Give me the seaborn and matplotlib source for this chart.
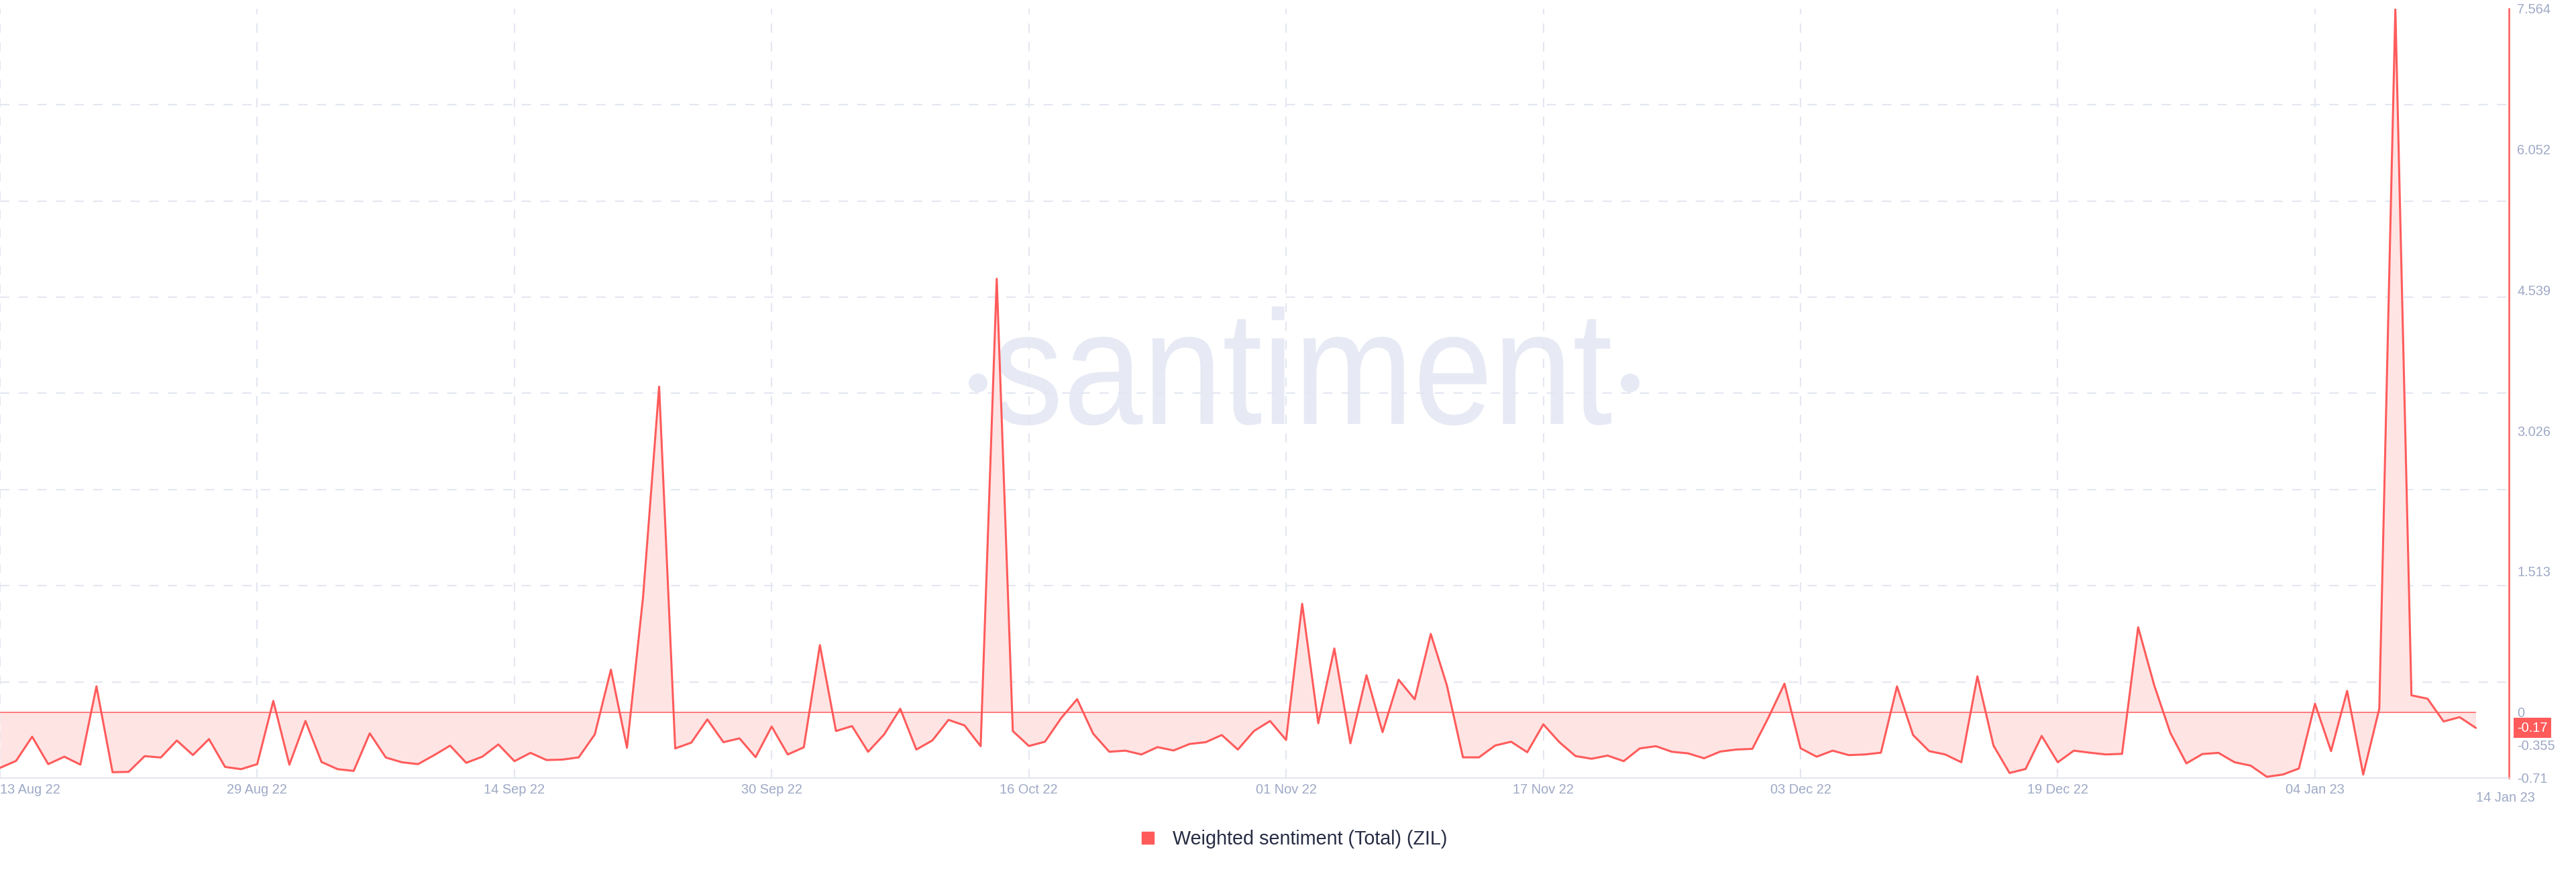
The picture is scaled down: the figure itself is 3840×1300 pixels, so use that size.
import numpy as np
import pandas as pd
import matplotlib
matplotlib.use('Agg')
import matplotlib.pyplot as plt
from matplotlib import font_manager
from matplotlib.font_manager import FontProperties
from matplotlib.lines import Line2D
from matplotlib.patches import PathPatch, Circle
from matplotlib.textpath import TextPath
from matplotlib.transforms import Affine2D, IdentityTransform
import seaborn as sns

# Data (daily weighted sentiment)
start_date = '2022-08-13'
sentiment = [
    -0.60, -0.525, -0.265, -0.56, -0.48, -0.565, 0.277, -0.647, -0.643, -0.474,
    -0.489, -0.306, -0.462, -0.291, -0.59, -0.614, -0.56, 0.12, -0.566, -0.096,
    -0.537, -0.614, -0.633, -0.229, -0.489, -0.54, -0.56, -0.464, -0.361, -0.546,
    -0.48, -0.348, -0.528, -0.439, -0.516, -0.511, -0.487, -0.24, 0.456, -0.384,
    1.236, 3.50, -0.391, -0.329, -0.079, -0.324, -0.283, -0.485, -0.156, -0.456,
    -0.379, 0.72, -0.204, -0.151, -0.427, -0.24, 0.036, -0.403, -0.305, -0.084,
    -0.144, -0.367, 4.66, -0.204, -0.365, -0.319, -0.067, 0.139, -0.233, -0.427,
    -0.415, -0.456, -0.377, -0.413, -0.343, -0.324, -0.247, -0.403, -0.204, -0.096,
    -0.30, 1.164, -0.12, 0.684, -0.336, 0.396, -0.216, 0.348, 0.137, 0.84,
    0.288, -0.487, -0.487, -0.36, -0.319, -0.432, -0.132, -0.324, -0.473, -0.502,
    -0.468, -0.528, -0.391, -0.367, -0.427, -0.444, -0.497, -0.425, -0.403, -0.396,
    -0.06, 0.305, -0.389, -0.48, -0.415, -0.463, -0.456, -0.437, 0.276, -0.247,
    -0.42, -0.456, -0.54, 0.384, -0.36, -0.655, -0.612, -0.257, -0.54, -0.415,
    -0.437, -0.456, -0.449, 0.912, 0.288, -0.223, -0.552, -0.451, -0.439, -0.54,
    -0.576, -0.696, -0.672, -0.607, 0.089, -0.42, 0.228, -0.672, 0.036, 7.564,
    0.18, 0.144, -0.101, -0.055, -0.17,
]
tick_dates = ['2022-08-13', '2022-08-29', '2022-09-14', '2022-09-30', '2022-10-16',
              '2022-11-01', '2022-11-17', '2022-12-03', '2022-12-19', '2023-01-04']
tick_labels = ['13 Aug 22', '29 Aug 22', '14 Sep 22', '30 Sep 22', '16 Oct 22',
               '01 Nov 22', '17 Nov 22', '03 Dec 22', '19 Dec 22', '04 Jan 23']
last_label = '14 Jan 23'
y_ticks = [7.564, 6.052, 4.539, 3.026, 1.513, 0, -0.355, -0.71]
y_tick_labels = ['7.564', '6.052', '4.539', '3.026', '1.513', '0', '-0.355', '-0.71']
series_name = 'Weighted sentiment (Total) (ZIL)'
watermark = 'santiment'

LINE = '#ff5b5b'
FILL = '#ffe4e4'
GRID = '#e4e7f1'
TICK = '#9ea9c6'
TEXT = '#272c44'
WATERMARK = '#e7eaf4'

sns.set_theme(style='white')
available = {f.name for f in font_manager.fontManager.ttflist}
main_font = 'Liberation Sans Narrow' if 'Liberation Sans Narrow' in available else 'Liberation Sans'
plt.rcParams['font.family'] = [main_font, 'DejaVu Sans']
plt.rcParams['lines.scale_dashes'] = False
fp = FontProperties(family=main_font)


def size_for_width(text, width_px):
    # font size (pt) so that the text is width_px wide at 100 dpi
    w = TextPath((0, 0), text, size=100, prop=fp).get_extents().width
    return 100 * width_px / w * 0.72


tick_size = size_for_width('29 Aug 22', 88)
legend_size = size_for_width(series_name, 408)

df = pd.DataFrame({
    'date': pd.date_range(start_date, periods=len(sentiment), freq='D'),
    'value': sentiment,
})

fig = plt.figure(figsize=(38.4, 13), dpi=100)
ax = fig.add_axes([0.0, 0.1077, 0.974, 0.8823])

ax.fill_between(df['date'], df['value'], 0, color=FILL, linewidth=0, zorder=1)
ax.hlines(0, df['date'].iloc[0], df['date'].iloc[-1], color=LINE, linewidth=1.1, zorder=2)
sns.lineplot(data=df, x='date', y='value', ax=ax, color=LINE, linewidth=2.2, zorder=3)

ax.set_xlim(df['date'].iloc[0], df['date'].iloc[0] + pd.Timedelta(days=156.07))
ax.set_ylim(-0.71, 7.564)

# watermark: condensed word + two round dots, placed in pixel coordinates
word = TextPath((0, 0), watermark, size=100, prop=fp)
wb = word.get_extents()
xh = TextPath((0, 0), 'n', size=100, prop=fp).get_extents().height
sx, sy = 918 / wb.width, 130 / xh
ax.add_artist(PathPatch(word, transform=Affine2D().scale(sx, sy).translate(1484 - wb.x0 * sx, 668),
                        fc=WATERMARK, ec='none', zorder=0))
for cx in (1458, 2430):
    ax.add_artist(Circle((cx, 1300 - 571), 14, transform=IdentityTransform(),
                         fc=WATERMARK, ec='none', zorder=0))

# grid: vertical at the date ticks, horizontal at 8 equal divisions
ax.set_xticks(pd.to_datetime(tick_dates))
ax.set_xticklabels(tick_labels)
ax.set_yticks(np.linspace(-0.71, 7.564, 9), minor=True)
ax.grid(which='major', axis='x', color=GRID, linewidth=1.5, linestyle=(0, (10, 10)))
ax.grid(which='minor', axis='y', color=GRID, linewidth=1.5, linestyle=(0, (10, 10)))

ax.yaxis.tick_right()
ax.set_yticks(y_ticks)
ax.set_yticklabels(y_tick_labels)
ax.tick_params(which='both', length=0)
ax.tick_params(axis='y', pad=8.6, labelsize=tick_size, labelcolor=TICK)
ax.tick_params(axis='x', pad=6, labelsize=tick_size, labelcolor=TICK)
ax.get_xticklabels()[0].set_ha('left')
ax.set_xlabel('')
ax.set_ylabel('')

ax.text(df['date'].iloc[-1], -0.0175, last_label, transform=ax.get_xaxis_transform(),
        ha='left', va='top', fontsize=tick_size, color=TICK)

for side in ['top', 'left']:
    ax.spines[side].set_visible(False)
ax.spines['bottom'].set_color(GRID)
ax.spines['bottom'].set_linewidth(1.5)
ax.spines['right'].set_color(LINE)
ax.spines['right'].set_linewidth(1.8)

# current value badge
ax.annotate(f'{sentiment[-1]:.2f}', xy=(1, sentiment[-1]), xycoords=ax.get_yaxis_transform(),
            xytext=(8.6, 0), textcoords='offset points', ha='left', va='center',
            fontsize=tick_size, color='white', zorder=5,
            bbox=dict(boxstyle='square,pad=0.28', fc=LINE, ec='none'))

handle = Line2D([], [], marker='s', linestyle='none', markersize=13,
                markerfacecolor=LINE, markeredgecolor=LINE)
fig.legend(handles=[handle], labels=[series_name], loc='center', bbox_to_anchor=(0.5, 0.0377),
           frameon=False, fontsize=legend_size, handletextpad=0.3, labelcolor=TEXT)

fig.savefig('out.png', dpi=100)
